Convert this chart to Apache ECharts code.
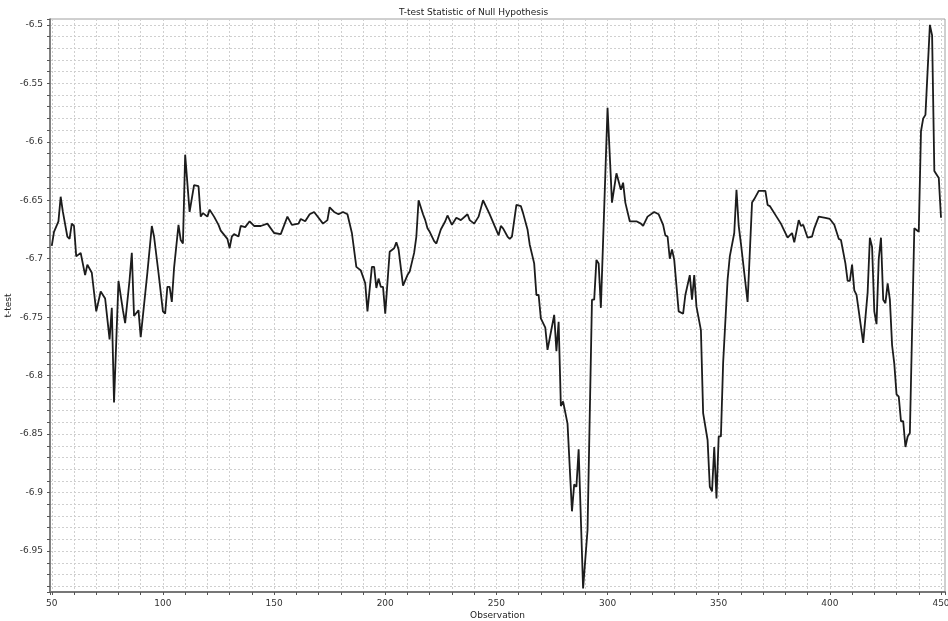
<!DOCTYPE html>
<html>
<head>
<meta charset="utf-8">
<title>T-test Statistic of Null Hypothesis</title>
<script src="https://cdn.jsdelivr.net/npm/echarts@6/dist/echarts.min.js"></script>
<style>
  html, body { margin: 0; padding: 0; background: #fff; }
  #graph { width: 948px; height: 621px; }
</style>
</head>
<body>
<div id="graph"></div>
<script>
// observation number (x) and t statistic (y)
var observation = [50,51,53,54,55,57,58,59,60,61,63,65,66,68,70,72,74,76,77,78,80,82,83,85,86,87,89,90,93,95,96,98,
    100,101,102,103,104,105,107,108,109,110,112,114,116,117,118,120,121,123,125,126,129,130,131,132,134,135,137,139,141,144,147,
    150,153,156,158,161,162,164,166,168,170,172,174,175,177,179,181,183,185,187,189,191,192,194,195,196,197,198,199,
    200,202,204,205,206,208,210,211,213,214,215,217,218,219,220,222,223,225,227,228,230,232,234,237,238,240,242,244,246,247,249,
    251,252,253,255,256,257,259,261,262,264,265,267,268,269,270,272,273,274,276,277,278,279,280,282,284,285,286,287,289,291,293,294,295,296,297,
    300,302,304,306,307,308,310,313,315,316,318,321,323,325,326,327,328,329,330,332,334,335,337,338,339,340,342,343,345,346,347,348,349,
    350,351,352,354,355,357,358,359,360,363,365,366,368,371,372,373,376,378,379,381,383,384,386,387,388,390,392,393,395,398,
    400,402,404,405,407,408,409,410,411,412,415,417,418,419,420,421,422,423,424,425,426,427,428,429,430,431,432,433,434,435,436,438,440,441,442,443,445,446,447,449,450];

var tStat = [-6.689,-6.677,-6.668,-6.647,-6.660,-6.681,-6.683,-6.670,-6.672,-6.698,-6.695,-6.714,-6.705,-6.712,-6.745,-6.728,-6.734,-6.769,-6.742,-6.823,-6.719,-6.744,-6.755,-6.718,-6.695,-6.749,-6.744,-6.767,-6.712,-6.672,-6.681,-6.712,
    -6.745,-6.747,-6.724,-6.724,-6.737,-6.708,-6.671,-6.684,-6.687,-6.611,-6.660,-6.637,-6.638,-6.664,-6.661,-6.664,-6.658,-6.664,-6.671,-6.676,-6.683,-6.691,-6.681,-6.679,-6.681,-6.672,-6.673,-6.668,-6.672,-6.672,-6.670,
    -6.678,-6.679,-6.664,-6.671,-6.670,-6.666,-6.668,-6.662,-6.660,-6.665,-6.670,-6.667,-6.656,-6.660,-6.662,-6.660,-6.662,-6.678,-6.707,-6.710,-6.721,-6.745,-6.707,-6.707,-6.725,-6.717,-6.724,-6.724,
    -6.747,-6.694,-6.691,-6.686,-6.692,-6.723,-6.714,-6.711,-6.695,-6.681,-6.650,-6.662,-6.667,-6.674,-6.677,-6.685,-6.687,-6.675,-6.668,-6.663,-6.671,-6.665,-6.667,-6.662,-6.667,-6.670,-6.664,-6.650,-6.658,-6.662,-6.671,
    -6.680,-6.672,-6.674,-6.681,-6.683,-6.681,-6.654,-6.655,-6.661,-6.675,-6.688,-6.704,-6.731,-6.731,-6.751,-6.759,-6.778,-6.768,-6.748,-6.779,-6.754,-6.826,-6.822,-6.841,-6.916,-6.893,-6.895,-6.863,-6.982,-6.932,-6.735,-6.735,-6.701,-6.704,-6.742,
    -6.571,-6.652,-6.627,-6.641,-6.635,-6.652,-6.668,-6.668,-6.670,-6.672,-6.664,-6.660,-6.662,-6.671,-6.680,-6.681,-6.700,-6.692,-6.701,-6.745,-6.747,-6.731,-6.714,-6.735,-6.714,-6.741,-6.761,-6.832,-6.855,-6.895,-6.899,-6.861,-6.905,
    -6.852,-6.852,-6.789,-6.718,-6.698,-6.678,-6.641,-6.672,-6.687,-6.737,-6.652,-6.649,-6.642,-6.642,-6.654,-6.655,-6.664,-6.670,-6.674,-6.682,-6.678,-6.686,-6.667,-6.672,-6.671,-6.682,-6.681,-6.674,-6.664,-6.665,
    -6.666,-6.671,-6.683,-6.684,-6.704,-6.719,-6.719,-6.705,-6.727,-6.731,-6.772,-6.729,-6.682,-6.690,-6.745,-6.756,-6.700,-6.682,-6.735,-6.738,-6.721,-6.735,-6.774,-6.790,-6.816,-6.818,-6.839,-6.839,-6.861,-6.852,-6.849,-6.674,-6.677,-6.591,-6.580,-6.577,-6.500,-6.509,-6.625,-6.631,-6.665];

// axis ranges and which tick labels are printed
var xRange = [49.2, 451.8];
var yRange = [-6.985, -6.495];
var xLabelStep = 50;
var yLabelStep = 0.05;

function onStep(v, step) {
    var k = v / step;
    return Math.abs(k - Math.round(k)) < 1e-6;
}

var points = [];
for (var i = 0; i < observation.length; i++) {
    points.push([observation[i], tStat[i]]);
}

var myChart = echarts.init(document.getElementById('graph'));
var font = 'DejaVu Sans';

var option = {
    backgroundColor: '#fff',
    animation: false,
    title: {
        text: 'T-test Statistic of Null Hypothesis',
        left: 394,
        top: 3,
        textStyle: { fontFamily: font, fontSize: 9, fontWeight: 'normal', color: '#222' }
    },
    grid: {
        left: 50,
        right: 3,
        top: 19,
        bottom: 29,
        outerBoundsMode: 'none',
        containLabel: false,
        show: true,
        borderColor: '#a0a0a0',
        borderWidth: 1
    },
    xAxis: {
        type: 'value',
        min: xRange[0],
        max: xRange[1],
        splitNumber: 40,
        name: 'Observation',
        nameLocation: 'middle',
        nameGap: 19,
        nameMoveOverlap: false,
        nameTextStyle: { fontFamily: font, fontSize: 9, color: '#222' },
        axisLine: { lineStyle: { color: '#777', width: 2 } },
        axisTick: { length: 3, lineStyle: { color: '#555' } },
        axisLabel: {
            fontFamily: font, fontSize: 9, color: '#333', margin: 7,
            formatter: function (v) {
                return onStep(v, xLabelStep) ? String(Math.round(v)) : '';
            }
        },
        splitLine: { show: true, lineStyle: { color: '#cfcfcf', width: 1, type: [2, 2] } }
    },
    yAxis: {
        type: 'value',
        min: yRange[0],
        max: yRange[1],
        splitNumber: 49,
        name: 't-test',
        nameLocation: 'middle',
        nameRotate: 90,
        nameGap: 37,
        nameMoveOverlap: false,
        nameTextStyle: { fontFamily: font, fontSize: 9, color: '#222' },
        axisLine: { show: true, lineStyle: { color: '#666', width: 1.5 } },
        axisTick: { show: true, length: 3, lineStyle: { color: '#555' } },
        axisLabel: {
            fontFamily: font, fontSize: 9, color: '#333', margin: 7,
            formatter: function (v) {
                return onStep(v, yLabelStep) ? String(parseFloat(v.toFixed(2))) : '';
            }
        },
        splitLine: { show: true, lineStyle: { color: '#cfcfcf', width: 1, type: [2, 2] } }
    },
    series: [
        {
            name: 't-test',
            type: 'line',
            data: points,
            showSymbol: false,
            symbol: 'none',
            lineStyle: { color: '#1c1c1c', width: 1.8 },
            z: 5
        }
    ]
};
myChart.setOption(option);
</script>
</body>
</html>
